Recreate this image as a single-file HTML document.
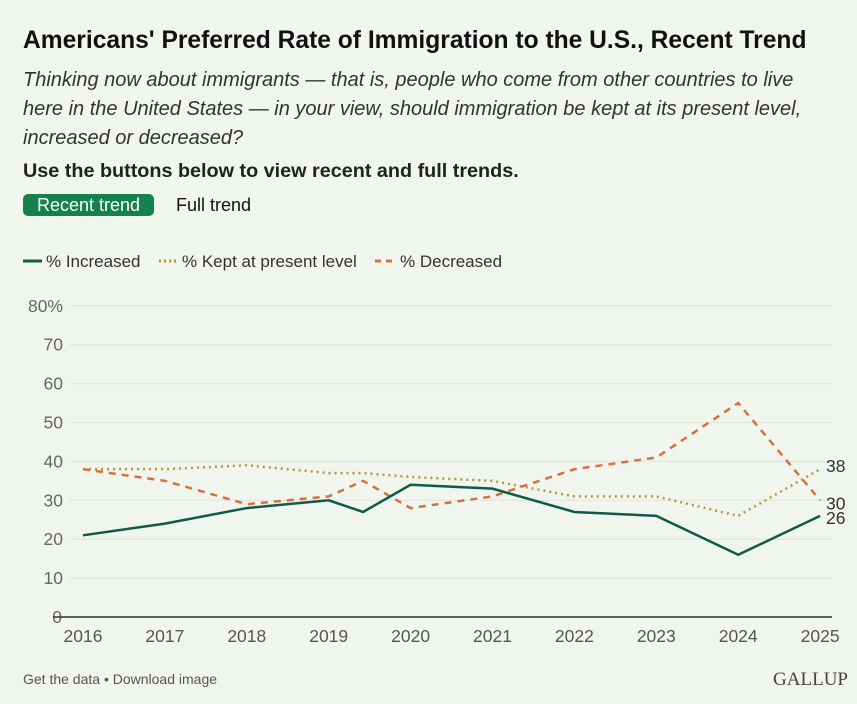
<!DOCTYPE html>
<html><head><meta charset="utf-8"><style>
body{margin:0;width:857px;height:704px;background:#f0f5ee;font-family:"Liberation Sans",sans-serif;position:relative;overflow:hidden;color:#222}
.abs{position:absolute}
</style></head><body>
<div class="abs" style="left:23px;top:27px;font-size:24.6px;font-weight:bold;color:#111;white-space:nowrap">Americans' Preferred Rate of Immigration to the U.S., Recent Trend</div>
<div class="abs" style="left:23px;top:66px;width:800px;font-size:20px;font-style:italic;line-height:29px;color:#333">Thinking now about immigrants — that is, people who come from other countries to live here in the United States — in your view, should immigration be kept at its present level, increased or decreased?</div>
<div class="abs" style="left:23px;top:160px;font-size:19.8px;font-weight:bold;color:#222;white-space:nowrap">Use the buttons below to view recent and full trends.</div>
<div class="abs" style="left:23px;top:194px;width:131px;height:22px;background:#14814e;border-radius:5px;color:#fff;font-size:18px;line-height:22px;text-align:center">Recent trend</div>
<div class="abs" style="left:176px;top:194px;font-size:18px;line-height:22px;color:#111">Full trend</div>
<svg class="abs" style="left:0;top:0" width="857" height="704" id="svg">
<g font-size="17" fill="#333">
<line x1="23" y1="261" x2="42" y2="261" stroke="#0f5a4b" stroke-width="3"/><text x="46" y="267">% Increased</text>
<line x1="159" y1="261" x2="178" y2="261" stroke="#b8943a" stroke-width="3" stroke-dasharray="2,3"/><text x="182" y="267">% Kept at present level</text>
<line x1="375" y1="261" x2="396" y2="261" stroke="#d6713f" stroke-width="3" stroke-dasharray="6,5"/><text x="400" y="267">% Decreased</text>
</g>
<g id="grid"></g><g id="lines"></g>
<text x="23" y="684" font-size="14" fill="#555">Get the data • Download image</text>
<text x="848" y="685" font-size="19" fill="#444" text-anchor="end" font-family="Liberation Serif">GALLUP</text>
</svg>
<script>
const years=[2016,2017,2018,2019,2019.42,2020,2021,2022,2023,2024,2025];
const increased=[21,24,28,30,27,34,33,27,26,16,26];
const kept=[38,38,39,37,37,36,35,31,31,26,38];
const decreased=[38,35,29,31,35,28,31,38,41,55,30];
const yTicks=[0,10,20,30,40,50,60,70,80];
const xTicks=[2016,2017,2018,2019,2020,2021,2022,2023,2024,2025];
const X=v=>83+(v-2016)*81.9, Y=v=>617-v*3.89;
const NS="http://www.w3.org/2000/svg";
function mk(t,a,p){const e=document.createElementNS(NS,t);for(const k in a)e.setAttribute(k,a[k]);p.appendChild(e);return e;}
const g=document.getElementById('grid'),L=document.getElementById('lines');
yTicks.forEach(t=>{
 if(t>0){const l=mk('line',{x1:70,x2:832,y1:Y(t),y2:Y(t),stroke:'#dde3da','stroke-width':1},g);
 
 }
 const tx=mk('text',{x:t===0?62:63,y:Y(t)+6,'text-anchor':'end','font-size':17.5,fill:'#666'},g);tx.textContent=t===80?'80%':t;
 
 
});
const ax=mk('line',{x1:53,x2:832,y1:617,y2:617,stroke:'#333','stroke-width':1.5},g);


xTicks.forEach(t=>{const tx=mk('text',{x:X(t),y:642,'text-anchor':'middle','font-size':17.5,fill:'#555'},g);tx.textContent=t;
 
 });
[[kept,'#b8943a','2,4','series-kept'],[decreased,'#d6713f','7,6','series-decreased'],[increased,'#0f5a4b','','series-increased']].forEach(([d,c,da,n])=>{
 const p=mk('polyline',{points:d.map((v,i)=>X(years[i])+','+Y(v)).join(' '),fill:'none',stroke:c,'stroke-width':2.5,'stroke-dasharray':da},L);
 
 
 const last=d[d.length-1];
 const off=d===kept?-3:d===decreased?3:2;
 const tx=mk('text',{x:826,y:Y(last)+6+off,'font-size':17.5,fill:'#333'},L);tx.textContent=last;
 
 
});
</script>
</body></html>
